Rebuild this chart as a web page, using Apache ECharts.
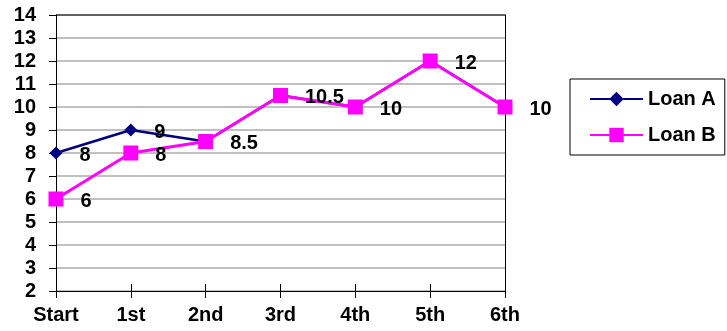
<!DOCTYPE html>
<html>
<head>
<meta charset="utf-8">
<script src="https://cdn.jsdelivr.net/npm/echarts@6/dist/echarts.min.js"></script>
<style>
html,body{margin:0;padding:0;background:#fff;}
#chart{width:727px;height:331px;}
</style>
</head>
<body>
<div id="chart"></div>
<script>
var categories = ['Start', '1st', '2nd', '3rd', '4th', '5th', '6th'];
var loanA = [8, 9, 8.5, 10.5, 10, 12, 10];
var loanB = [6, 8, 8.5, 10.5, 10, 12, 10];
var seriesNames = ['Loan A', 'Loan B'];
var yMin = 2, yMax = 14, yStep = 1;

var FONT = '"Liberation Sans", Arial, sans-serif';
var labelStyle = {
  show: true, position: 'right', distance: 17, offset: [0, 2],
  color: '#000', fontSize: 20, fontWeight: 'bold', fontFamily: FONT
};
// Loan A labels only where it differs from Loan B (otherwise they coincide)
var dataA = loanA.map(function (v, i) {
  return { value: v, label: { show: v !== loanB[i] } };
});

var gridColors = [];
for (var k = yMin; k <= yMax; k += yStep) gridColors.push(k === yMax ? '#606060' : '#c0c0c0');

var chart = echarts.init(document.getElementById('chart'));
chart.setOption({
  animation: false,
  backgroundColor: '#fff',
  textStyle: { fontFamily: FONT },
  grid: { left: 56, right: 222, top: 15, bottom: 40, containLabel: false },
  legend: {
    orient: 'vertical', left: 570, top: 79,
    padding: [10, 9, 10, 19],
    borderColor: '#000', borderWidth: 1,
    itemWidth: 53, itemHeight: 18, itemGap: 16,
    textStyle: { fontSize: 20, fontWeight: 'bold', color: '#000', fontFamily: FONT, lineHeight: 20 },
    data: seriesNames
  },
  xAxis: [{
    type: 'category', data: categories, boundaryGap: false, position: 'bottom',
    axisLine: { lineStyle: { color: '#000', width: 1 } },
    axisTick: { show: true, length: 7, inside: false, lineStyle: { color: '#000' } },
    axisLabel: { color: '#000', fontSize: 20, fontWeight: 'bold', fontFamily: FONT, margin: 14 },
    splitLine: { show: false }
  }, {
    type: 'category', data: categories, boundaryGap: false, position: 'top', offset: -276,
    axisLine: { show: false },
    axisTick: { show: true, length: 7, inside: false, lineStyle: { color: '#000' } },
    axisLabel: { show: false },
    splitLine: { show: false }
  }],
  yAxis: [{
    type: 'value', min: yMin, max: yMax, interval: yStep, position: 'left',
    axisLine: { show: true, lineStyle: { color: '#000', width: 1 } },
    axisTick: { show: true, length: 7, inside: false, lineStyle: { color: '#000' } },
    axisLabel: { color: '#000', fontSize: 20, fontWeight: 'bold', fontFamily: FONT, margin: 20 },
    splitLine: { show: true, lineStyle: { color: gridColors, width: 2 } }
  }, {
    type: 'value', min: yMin, max: yMax, interval: yStep, position: 'right',
    axisLine: { show: true, lineStyle: { color: '#000', width: 1 } },
    axisTick: { show: false }, axisLabel: { show: false }, splitLine: { show: false }
  }],
  series: [{
    name: seriesNames[0], type: 'line', data: dataA,
    symbol: 'diamond', symbolSize: 13,
    itemStyle: { color: '#000080' },
    lineStyle: { color: '#000080', width: 2.5 },
    label: labelStyle, z: 3
  }, {
    name: seriesNames[1], type: 'line', data: loanB,
    symbol: 'rect', symbolSize: 15,
    itemStyle: { color: '#ff00ff' },
    lineStyle: { color: '#ff00ff', width: 3 },
    label: labelStyle, z: 4
  }]
});
</script>
</body>
</html>
